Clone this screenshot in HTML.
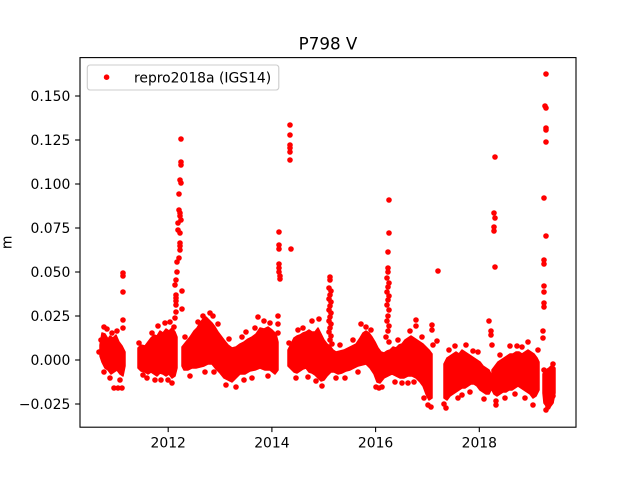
<!DOCTYPE html>
<html>
<head>
<meta charset="utf-8">
<style>
  html, body { margin:0; padding:0; background:#ffffff; }
  svg { display:block; }
  text { font-family: "DejaVu Sans", "Liberation Sans", sans-serif; fill:#000; }
</style>
</head>
<body>
<svg width="640" height="480" viewBox="0 0 640 480" xmlns="http://www.w3.org/2000/svg">
  <rect x="0" y="0" width="640" height="480" fill="#ffffff"/>

  <!-- dense clusters -->
  <g fill="#ff0000" stroke="#ff0000" stroke-width="1.5" stroke-linejoin="round">
    <!-- A -->
    <polygon points="100,345 102,333 105,334 108,339 110,336 113,338 116,335 119,342 122,346 125,352 125,366 123,376 120,374 117,370 114,372 111,374 108,370 105,368 102,362 100,356"/>
    <!-- B -->
    <polygon points="138,348 141,345 145,346 148,342 151,338 154,335 157,336 160,331 163,333 166,329 169,331 172,328 175,332 177,337 177,368 175,376 172,378 169,374 166,376 163,374 160,373 157,376 154,374 151,372 148,374 145,372 141,371 138,368"/>
    <!-- C -->
    <polygon points="182,347 186,342 190,337 194,331 197,328 200,323 203,319 206,317 209,320 212,323 215,327 218,332 221,336 224,340 228,345 232,348 236,347 240,344 244,342 248,339 252,337 256,334 260,328 264,329 268,327 272,330 276,334 278,342 278,370 275,374 270,370 265,370 260,368 255,370 250,371 245,374 240,374 236,378 232,382 228,380 224,378 220,373 216,369 212,364 208,364 204,366 200,367 196,368 192,368 188,370 184,370 182,366"/>
    <!-- D + E joined -->
    <polygon points="288,350 291,344 294,338 297,336 300,335 303,333 306,332 309,330 312,332 315,332 318,328 321,334 324,340 327,344 330,346 333,350 336,352 340,351 344,350 348,348 352,346 356,344 360,338 363,333 366,331 369,333 372,337 375,342 378,348 381,352 384,353 387,351 390,350 393,347 396,348 399,345 402,344 405,340 408,338 411,336 414,338 417,340 420,342 423,344 426,347 429,350 432,354 432,398 429,400 426,394 423,386 420,382 416,378 412,376 408,376 404,378 400,378 396,376 392,374 388,376 384,378 380,383 377,382 374,374 370,368 366,364 362,365 358,366 354,368 350,370 346,371 342,373 338,374 334,372 331,372 327,376 324,380 321,381 318,378 315,375 312,373 309,372 306,368 303,369 300,371 297,373 294,372 291,369 288,366"/>
    <!-- F -->
    <polygon points="444,364 447,358 450,356 453,354 456,352 459,354 462,350 465,352 468,354 471,356 474,358 477,360 480,362 483,366 486,368 489,370 491,374 491,390 489,394 486,394 483,392 480,390 477,386 474,384 471,384 468,386 465,388 462,388 459,390 456,392 453,394 450,396 447,400 444,398"/>
    <!-- G -->
    <polygon points="492,370 495,366 498,362 501,360 504,358 507,356 510,354 513,354 516,352 519,352 522,354 525,352 528,350 531,352 534,354 537,358 539,362 539,390 536,396 533,398 530,394 527,392 524,390 521,388 518,386 515,388 512,390 509,390 506,392 503,392 500,394 497,396 494,394 492,390"/>
    <!-- H -->
    <polygon points="543,374 546,370 549,368 552,365 555,368 555,393 553,403 550,407 547,407 544,403 543,393"/>
  </g>

  <!-- individual points -->
  <g fill="#ff0000">
    <!-- A outliers / edges -->
    <circle cx="123" cy="273" r="2.8"/><circle cx="123" cy="276" r="2.8"/><circle cx="123" cy="292" r="2.8"/>
    <circle cx="123" cy="320" r="2.8"/><circle cx="123" cy="328" r="2.8"/>
    <circle cx="114" cy="388" r="2.8"/><circle cx="118" cy="388" r="2.8"/><circle cx="122" cy="388" r="2.8"/>
    <circle cx="104" cy="327" r="2.8"/><circle cx="107" cy="329" r="2.8"/><circle cx="101" cy="340" r="2.8"/>
    <circle cx="110" cy="378" r="2.8"/><circle cx="120" cy="380" r="2.8"/><circle cx="99" cy="352" r="2.8"/>
    <circle cx="112" cy="333" r="2.8"/><circle cx="117" cy="331" r="2.8"/><circle cx="104" cy="372" r="2.8"/>
    <!-- B edges -->
    <circle cx="172" cy="383" r="2.8"/><circle cx="165" cy="323" r="2.8"/><circle cx="158" cy="326" r="2.8"/>
    <circle cx="147" cy="378" r="2.8"/><circle cx="139" cy="343" r="2.8"/><circle cx="161" cy="380" r="2.8"/>
    <circle cx="170" cy="322" r="2.8"/><circle cx="152" cy="333" r="2.8"/><circle cx="155" cy="380" r="2.8"/>
    <circle cx="168" cy="380" r="2.8"/><circle cx="143" cy="375" r="2.8"/><circle cx="174" cy="327" r="2.8"/>
    <!-- 2012 spike -->
    <circle cx="181" cy="139" r="2.8"/><circle cx="181" cy="162" r="2.8"/><circle cx="181" cy="165" r="2.8"/>
    <circle cx="180" cy="180" r="2.8"/><circle cx="181" cy="183" r="2.8"/><circle cx="179" cy="194" r="2.8"/>
    <circle cx="179" cy="210" r="2.8"/><circle cx="180" cy="213" r="2.8"/><circle cx="180" cy="216" r="2.8"/>
    <circle cx="181" cy="220" r="2.8"/><circle cx="178" cy="223" r="2.8"/><circle cx="178" cy="230" r="2.8"/>
    <circle cx="180" cy="233" r="2.8"/><circle cx="180" cy="243" r="2.8"/><circle cx="180" cy="246" r="2.8"/>
    <circle cx="180" cy="250" r="2.8"/><circle cx="179" cy="258" r="2.8"/><circle cx="177" cy="262" r="2.8"/>
    <circle cx="177" cy="272" r="2.8"/><circle cx="176" cy="280" r="2.8"/><circle cx="175" cy="285" r="2.8"/>
    <circle cx="176" cy="295" r="2.8"/><circle cx="176" cy="298" r="2.8"/><circle cx="176" cy="301" r="2.8"/>
    <circle cx="176" cy="305" r="2.8"/><circle cx="182" cy="291" r="2.8"/><circle cx="182" cy="309" r="2.8"/>
    <circle cx="176" cy="312" r="2.8"/><circle cx="175" cy="318" r="2.8"/>
    <!-- C edges -->
    <circle cx="258" cy="317" r="2.8"/><circle cx="236" cy="387" r="2.8"/><circle cx="226" cy="385" r="2.8"/>
    <circle cx="210" cy="313" r="2.8"/><circle cx="213" cy="316" r="2.8"/><circle cx="198" cy="322" r="2.8"/>
    <circle cx="264" cy="321" r="2.8"/><circle cx="246" cy="332" r="2.8"/><circle cx="190" cy="376" r="2.8"/>
    <circle cx="205" cy="372" r="2.8"/><circle cx="252" cy="378" r="2.8"/><circle cx="268" cy="376" r="2.8"/>
    <circle cx="229" cy="339" r="2.8"/><circle cx="203" cy="316" r="2.8"/><circle cx="218" cy="324" r="2.8"/>
    <circle cx="185" cy="337" r="2.8"/><circle cx="242" cy="337" r="2.8"/><circle cx="255" cy="328" r="2.8"/>
    <circle cx="270" cy="323" r="2.8"/><circle cx="214" cy="372" r="2.8"/><circle cx="244" cy="380" r="2.8"/>
    <!-- 2014.0 spike -->
    <circle cx="279" cy="232" r="2.8"/><circle cx="279" cy="245" r="2.8"/><circle cx="279" cy="249" r="2.8"/>
    <circle cx="279" cy="264" r="2.8"/><circle cx="279" cy="268" r="2.8"/><circle cx="279" cy="272" r="2.8"/>
    <circle cx="280" cy="276" r="2.8"/><circle cx="280" cy="279" r="2.8"/><circle cx="278" cy="316" r="2.8"/>
    <circle cx="278" cy="324" r="2.8"/><circle cx="278" cy="333" r="2.8"/>
    <!-- 2014.4 spike -->
    <circle cx="290" cy="125" r="2.8"/><circle cx="290" cy="135" r="2.8"/><circle cx="290" cy="145" r="2.8"/>
    <circle cx="290" cy="148" r="2.8"/><circle cx="290" cy="152" r="2.8"/><circle cx="290" cy="160" r="2.8"/>
    <circle cx="291" cy="249" r="2.8"/>
    <!-- D edges -->
    <circle cx="312" cy="321" r="2.8"/><circle cx="319" cy="319" r="2.8"/><circle cx="296" cy="378" r="2.8"/>
    <circle cx="322" cy="386" r="2.8"/><circle cx="303" cy="328" r="2.8"/><circle cx="289" cy="343" r="2.8"/>
    <circle cx="308" cy="377" r="2.8"/><circle cx="316" cy="381" r="2.8"/><circle cx="298" cy="330" r="2.8"/>
    <!-- 2015.2 spike column -->
    <circle cx="330" cy="277" r="2.8"/><circle cx="330" cy="280" r="2.8"/><circle cx="329" cy="288" r="2.8"/>
    <circle cx="331" cy="291" r="2.8"/><circle cx="330" cy="295" r="2.8"/><circle cx="329" cy="299" r="2.8"/>
    <circle cx="331" cy="302" r="2.8"/><circle cx="330" cy="306" r="2.8"/><circle cx="329" cy="310" r="2.8"/>
    <circle cx="331" cy="313" r="2.8"/><circle cx="330" cy="317" r="2.8"/><circle cx="329" cy="321" r="2.8"/>
    <circle cx="331" cy="324" r="2.8"/><circle cx="330" cy="328" r="2.8"/><circle cx="329" cy="332" r="2.8"/>
    <circle cx="331" cy="336" r="2.8"/><circle cx="330" cy="340" r="2.8"/><circle cx="332" cy="344" r="2.8"/>
    <!-- E edges -->
    <circle cx="361" cy="324" r="2.8"/><circle cx="366" cy="327" r="2.8"/><circle cx="376" cy="387" r="2.8"/>
    <circle cx="379" cy="388" r="2.8"/><circle cx="382" cy="387" r="2.8"/><circle cx="416" cy="320" r="2.8"/>
    <circle cx="416" cy="326" r="2.8"/><circle cx="432" cy="325" r="2.8"/><circle cx="432" cy="330" r="2.8"/>
    <circle cx="437" cy="341" r="2.8"/><circle cx="428" cy="405" r="2.8"/><circle cx="431" cy="407" r="2.8"/>
    <circle cx="424" cy="398" r="2.8"/><circle cx="345" cy="378" r="2.8"/><circle cx="398" cy="340" r="2.8"/>
    <circle cx="408" cy="383" r="2.8"/><circle cx="433" cy="345" r="2.8"/><circle cx="353" cy="340" r="2.8"/>
    <circle cx="340" cy="345" r="2.8"/><circle cx="371" cy="330" r="2.8"/><circle cx="395" cy="382" r="2.8"/>
    <circle cx="402" cy="383" r="2.8"/><circle cx="414" cy="382" r="2.8"/><circle cx="336" cy="378" r="2.8"/>
    <circle cx="358" cy="372" r="2.8"/><circle cx="410" cy="331" r="2.8"/><circle cx="422" cy="337" r="2.8"/>
    <!-- 2017.2 outlier -->
    <circle cx="438" cy="271" r="2.8"/>
    <!-- 2016.3 spike column -->
    <circle cx="389" cy="200" r="2.8"/><circle cx="389" cy="233" r="2.8"/><circle cx="388" cy="252" r="2.8"/>
    <circle cx="388" cy="268" r="2.8"/><circle cx="388" cy="272" r="2.8"/><circle cx="387" cy="278" r="2.8"/>
    <circle cx="389" cy="283" r="2.8"/><circle cx="388" cy="287" r="2.8"/><circle cx="387" cy="292" r="2.8"/>
    <circle cx="389" cy="296" r="2.8"/><circle cx="388" cy="300" r="2.8"/><circle cx="387" cy="305" r="2.8"/>
    <circle cx="389" cy="310" r="2.8"/><circle cx="388" cy="316" r="2.8"/><circle cx="387" cy="321" r="2.8"/>
    <circle cx="389" cy="326" r="2.8"/><circle cx="388" cy="331" r="2.8"/><circle cx="386" cy="337" r="2.8"/>
    <circle cx="389" cy="342" r="2.8"/>
    <!-- F edges -->
    <circle cx="446" cy="408" r="2.8"/><circle cx="444" cy="404" r="2.8"/><circle cx="455" cy="346" r="2.8"/>
    <circle cx="466" cy="345" r="2.8"/><circle cx="478" cy="352" r="2.8"/><circle cx="470" cy="392" r="2.8"/>
    <circle cx="484" cy="399" r="2.8"/><circle cx="458" cy="398" r="2.8"/><circle cx="449" cy="350" r="2.8"/>
    <circle cx="473" cy="351" r="2.8"/><circle cx="462" cy="395" r="2.8"/>
    <!-- 2018.3 spike -->
    <circle cx="495" cy="157" r="2.8"/><circle cx="494" cy="213" r="2.8"/><circle cx="495" cy="218" r="2.8"/>
    <circle cx="494" cy="227" r="2.8"/><circle cx="494" cy="231" r="2.8"/><circle cx="495" cy="267" r="2.8"/>
    <circle cx="489" cy="321" r="2.8"/><circle cx="491" cy="331" r="2.8"/><circle cx="491" cy="335" r="2.8"/>
    <circle cx="492" cy="345" r="2.8"/>
    <!-- G edges -->
    <circle cx="496" cy="405" r="2.8"/><circle cx="496" cy="401" r="2.8"/><circle cx="525" cy="398" r="2.8"/>
    <circle cx="533" cy="405" r="2.8"/><circle cx="528" cy="342" r="2.8"/><circle cx="517" cy="346" r="2.8"/>
    <circle cx="510" cy="346" r="2.8"/><circle cx="538" cy="350" r="2.8"/><circle cx="505" cy="398" r="2.8"/>
    <circle cx="500" cy="355" r="2.8"/><circle cx="522" cy="347" r="2.8"/><circle cx="515" cy="394" r="2.8"/>
    <!-- 2019.3 spike -->
    <circle cx="546" cy="74" r="2.8"/><circle cx="545" cy="106" r="2.8"/><circle cx="546" cy="108" r="2.8"/>
    <circle cx="546" cy="128" r="2.8"/><circle cx="546" cy="130" r="2.8"/><circle cx="546" cy="142" r="2.8"/>
    <circle cx="544" cy="198" r="2.8"/><circle cx="546" cy="236" r="2.8"/><circle cx="544" cy="260" r="2.8"/>
    <circle cx="544" cy="264" r="2.8"/><circle cx="544" cy="286" r="2.8"/><circle cx="544" cy="292" r="2.8"/>
    <circle cx="544" cy="303" r="2.8"/><circle cx="544" cy="307" r="2.8"/><circle cx="543" cy="331" r="2.8"/>
    <circle cx="543" cy="338" r="2.8"/>
    <!-- H edges -->
    <circle cx="553" cy="364" r="2.8"/><circle cx="551" cy="402" r="2.8"/><circle cx="546" cy="410" r="2.8"/>
    <circle cx="548" cy="407" r="2.8"/><circle cx="553" cy="396" r="2.8"/><circle cx="544" cy="370" r="2.8"/>
  </g>

  <!-- axes frame -->
  <rect x="80" y="57.6" width="496" height="369.6" fill="none" stroke="#000" stroke-width="1.1"/>

  <!-- ticks -->
  <g stroke="#000" stroke-width="1.1">
    <line x1="75.1" y1="96" x2="80" y2="96"/>
    <line x1="75.1" y1="140" x2="80" y2="140"/>
    <line x1="75.1" y1="184" x2="80" y2="184"/>
    <line x1="75.1" y1="228" x2="80" y2="228"/>
    <line x1="75.1" y1="272" x2="80" y2="272"/>
    <line x1="75.1" y1="316" x2="80" y2="316"/>
    <line x1="75.1" y1="360" x2="80" y2="360"/>
    <line x1="75.1" y1="404" x2="80" y2="404"/>
    <line x1="168.2" y1="427.2" x2="168.2" y2="432.1"/>
    <line x1="271.9" y1="427.2" x2="271.9" y2="432.1"/>
    <line x1="375.6" y1="427.2" x2="375.6" y2="432.1"/>
    <line x1="479.3" y1="427.2" x2="479.3" y2="432.1"/>
  </g>

  <g font-size="13.9" text-anchor="end">
    <text x="70.3" y="101">0.150</text>
    <text x="70.3" y="145">0.125</text>
    <text x="70.3" y="189">0.100</text>
    <text x="70.3" y="233">0.075</text>
    <text x="70.3" y="277">0.050</text>
    <text x="70.3" y="321">0.025</text>
    <text x="70.3" y="365">0.000</text>
    <text x="70.3" y="409">−0.025</text>
  </g>
  <g font-size="13.9" text-anchor="middle">
    <text x="168.2" y="447.5">2012</text>
    <text x="271.9" y="447.5">2014</text>
    <text x="375.6" y="447.5">2016</text>
    <text x="479.3" y="447.5">2018</text>
  </g>

  <!-- y label -->
  <text font-size="13.9" text-anchor="middle" transform="translate(11.5,242.4) rotate(-90)">m</text>

  <!-- title -->
  <text x="328" y="49.3" font-size="16.7" text-anchor="middle">P798 V</text>

  <!-- legend -->
  <rect x="87.3" y="65" width="191.5" height="25" rx="2.8" ry="2.8" fill="#ffffff" fill-opacity="0.8" stroke="#cccccc" stroke-width="1.1"/>
  <circle cx="106.6" cy="77.2" r="2.8" fill="#ff0000"/>
  <text x="134" y="82.3" font-size="13.9">repro2018a (IGS14)</text>
</svg>
</body>
</html>
